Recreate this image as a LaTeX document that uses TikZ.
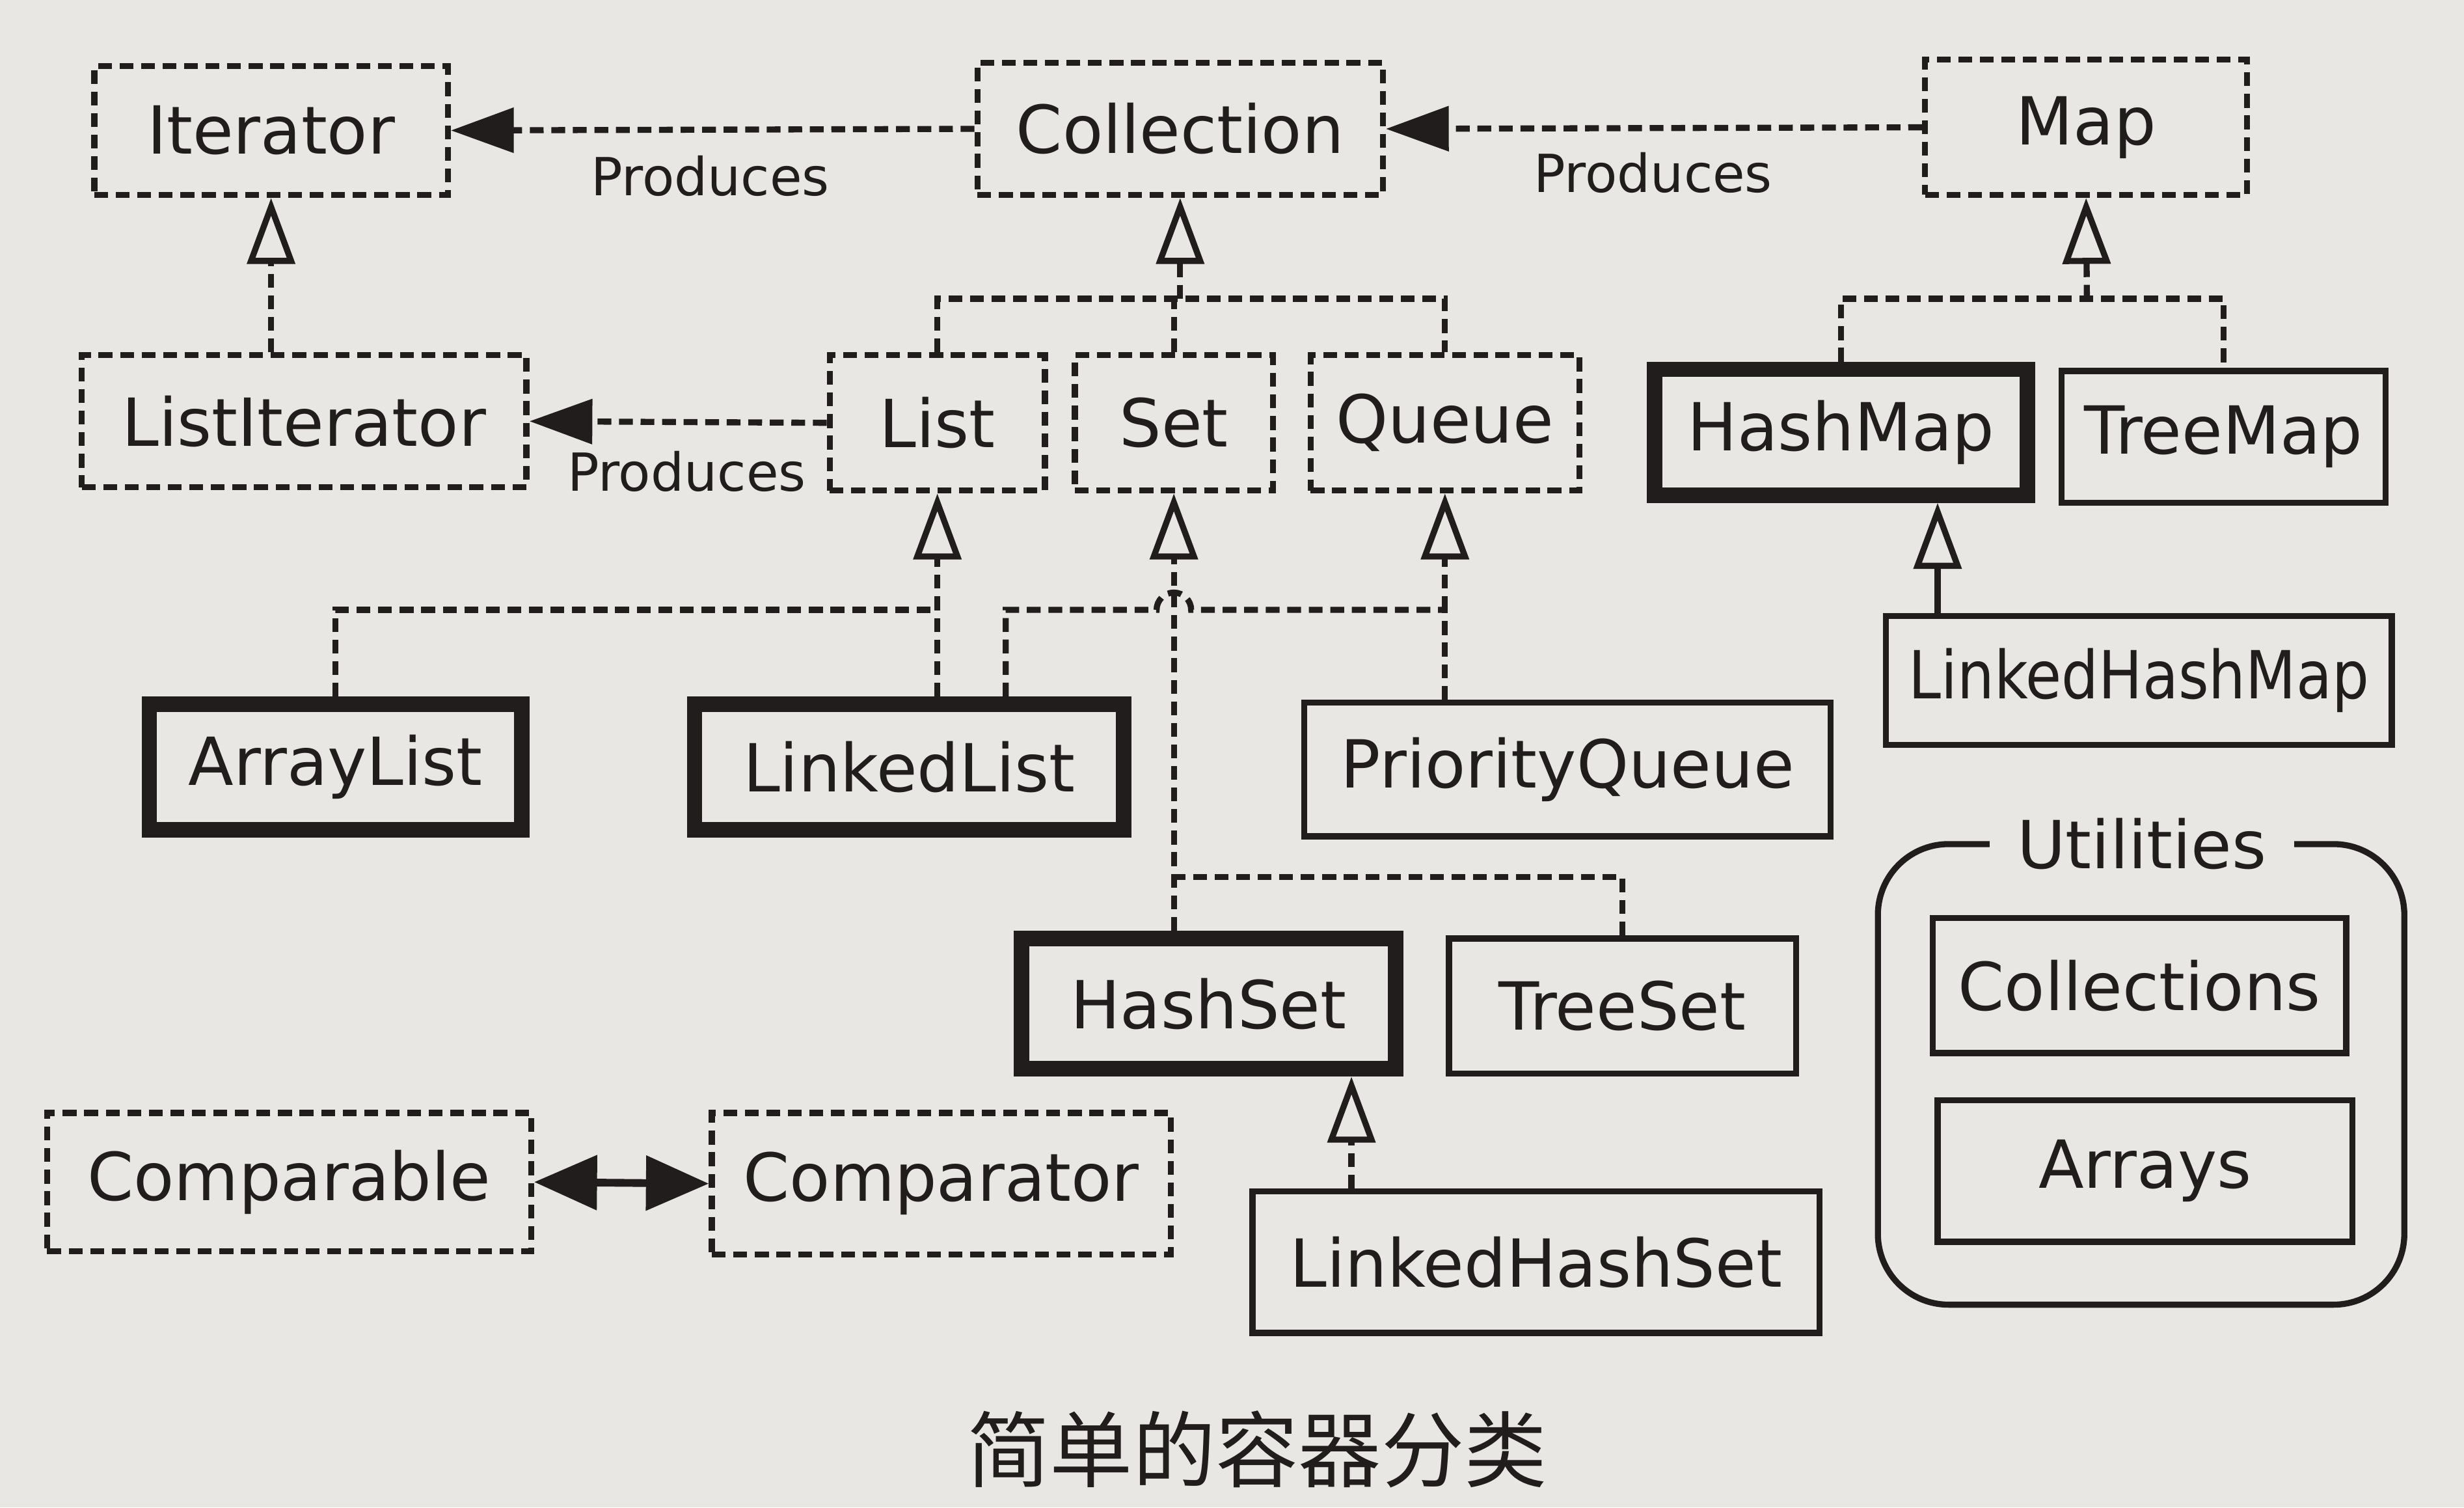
\documentclass[tikz,border=0pt]{standalone}
\usepackage{fontspec}
\usepackage{graphicx}
\setmainfont{DejaVu Sans}
\newfontfamily\cjkfont{Noto Sans CJK SC}
\usetikzlibrary{arrows.meta,calc}
\definecolor{paper}{RGB}{233,231,228}
\definecolor{ink}{RGB}{33,29,29}

\tikzset{
  caja/.style={draw=ink, text=ink, line width=1.1pt, inner sep=0pt, font=\fontsize{12}{14}\selectfont},
  interfaz/.style={caja, dash pattern=on 2.5pt off 1.4pt},
  clase/.style={caja},
  clasefuerte/.style={caja, line width=2.8pt},
  conector/.style={draw=ink, line width=1.1pt},
  punteado/.style={conector, dash pattern=on 2.5pt off 1.4pt},
  produce/.style={punteado, -{Triangle[length=0.40cm,width=0.28cm]}},
  hereda/.style={-{Triangle[open,length=0.42cm,width=0.30cm,fill=paper]}},
  etiqueta/.style={text=ink, font=\fontsize{9.5}{11}\selectfont},
}

\begin{document}
\begin{tikzpicture}
		% Fondo y marco
		\fill[paper] (0,0) rectangle (15.68,9.59);
		\useasboundingbox (0,0) rectangle (15.68,9.59);
		
		% Fila 1 (interfaces de arriba)
		\node[interfaz, minimum width=2.25cm, minimum height=0.82cm] (iter) at (1.725,8.76) {Iterator};
		\node[interfaz, minimum width=2.58cm, minimum height=0.84cm] (coll) at (7.51,8.77) {Collection};
		\node[interfaz, minimum width=2.05cm, minimum height=0.86cm] (map) at (13.275,8.78) {Map};
		
		% Fila 2
		\node[interfaz, minimum width=2.83cm, minimum height=0.84cm] (lit) at (1.935,6.91) {ListIterator};
		\node[interfaz, minimum width=1.37cm, minimum height=0.86cm] (list) at (5.965,6.90) {List};
		\node[interfaz, minimum width=1.26cm, minimum height=0.86cm] (set) at (7.47,6.90) {Set};
		\node[interfaz, minimum width=1.71cm, minimum height=0.86cm] (queue) at (9.195,6.90) {Queue};
		\node[clasefuerte, minimum width=2.37cm, minimum height=0.80cm] (hmap) at (11.715,6.84) {HashMap};
		\node[clase, minimum width=2.06cm, minimum height=0.84cm] (tmap) at (14.15,6.81) {TreeMap};
		
		% Fila 3
		\node[clase, minimum width=3.22cm, minimum height=0.82cm] (lhmap) at (13.61,5.26) {\scalebox{0.88}[1]{LinkedHashMap}};
		\node[clasefuerte, minimum width=2.37cm, minimum height=0.80cm] (alist) at (2.135,4.71) {ArrayList};
		\node[clasefuerte, minimum width=2.73cm, minimum height=0.80cm] (llist) at (5.785,4.71) {LinkedList};
		\node[clase, minimum width=3.35cm, minimum height=0.85cm] (pqueue) at (9.975,4.695) {PriorityQueue};
		
		% Fila 4
		\node[clasefuerte, minimum width=2.38cm, minimum height=0.83cm] (hset) at (7.69,3.205) {HashSet};
		\node[clase, minimum width=2.21cm, minimum height=0.86cm] (tset) at (10.325,3.19) {TreeSet};
		\node[interfaz, minimum width=3.08cm, minimum height=0.88cm] (cmpble) at (1.84,2.07) {Comparable};
		\node[interfaz, minimum width=2.92cm, minimum height=0.90cm] (cmptor) at (5.99,2.06) {Comparator};
		\node[clase, minimum width=3.61cm, minimum height=0.90cm] (lhset) at (9.775,1.56) {LinkedHashSet};
		
		% Utilidades
		\draw[ink, line width=1.1pt, rounded corners=0.45cm] (11.95,1.29) rectangle (15.30,4.22);
		\node[fill=paper, text=ink, inner xsep=5pt, font=\fontsize{12}{14}\selectfont] (util) at (13.63,4.22) {Utilities};
		\node[clase, minimum width=2.63cm, minimum height=0.86cm] (colls) at (13.615,3.32) {Collections};
		\node[clase, minimum width=2.64cm, minimum height=0.90cm] (arrs) at (13.65,2.14) {Arrays};
		
		% Puntos de union
		\coordinate (cj) at (7.51,7.69);
		\coordinate (mj) at (13.28,7.69);
		\coordinate (lj) at (5.965,5.71);
		\coordinate (qj) at (9.195,5.71);
		\coordinate (llq) at (6.40,5.71);
		\coordinate (sj) at (7.47,4.01);
		\coordinate (lhmx) at (12.33,5.0);
		\coordinate (lhsx) at (8.60,2.0);
		
		% Produces
		\draw[produce] (coll.west) -- (iter.east);
		\draw[produce] (map.west) -- (coll.east);
		\draw[produce] (list.west) -- (lit.east);
		\node[etiqueta] (p1) at (4.52,8.47) {Produces};
		\node[etiqueta] (p2) at (10.52,8.49) {Produces};
		\node[etiqueta] (p3) at (4.37,6.59) {Produces};
		
		% Herencia
		\draw[punteado, hereda] (lit.north -| iter.south) -- (iter.south);
		\draw[punteado] (list.north) |- (queue.north |- cj) -- (queue.north);
		\draw[punteado] (set.north) -- (set.north |- cj);
		\draw[punteado, hereda] (cj) -- (coll.south);
		\draw[punteado] (hmap.north) |- (tmap.north |- mj) -- (tmap.north);
		\draw[punteado, hereda] (mj) -- (map.south);
		\draw[conector, hereda] (lhmap.north -| lhmx) -- (lhmx |- hmap.south);
		\draw[punteado] (alist.north) |- (lj);
		\draw[punteado] (llist.north -| lj) -- (lj);
		\draw[punteado, hereda] (lj) -- (list.south);
		\draw[punteado] (llist.north -| llq) -- (llq) -- ($(set.south |- qj)+(-0.11,0)$) arc[start angle=180, end angle=0, radius=0.11] -- (qj);
		\draw[punteado] (pqueue.north -| qj) -- (qj);
		\draw[punteado, hereda] (qj) -- (queue.south);
		\draw[punteado] (tset.north) |- (sj);
		\draw[punteado, hereda] (hset.north -| set.south) -- (set.south);
		\draw[punteado, hereda] (lhset.north -| lhsx) -- (lhsx |- hset.south);
		
		% Comparable / Comparator
		\draw[conector, line width=1.4pt, {Triangle[length=0.40cm,width=0.34cm]}-{Triangle[length=0.40cm,width=0.34cm]}] (cmpble.east) -- (cmptor.west);
		
		% Titulo
		\node[text=ink, font=\cjkfont\fontsize{15}{18}\selectfont] (titulo) at (8.00,0.37) {简单的容器分类};
	\end{tikzpicture}
\end{document}
